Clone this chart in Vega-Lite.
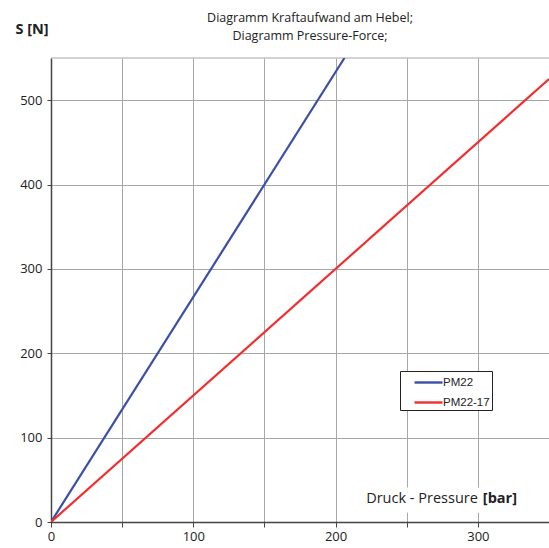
{
  "$schema": "https://vega.github.io/schema/vega-lite/v6.json",
  "width": 498,
  "height": 464,
  "autosize": "none",
  "padding": {"left": 51, "top": 58, "right": 0, "bottom": 26},
  "background": "white",
  "title": {
    "text": ["Diagramm Kraftaufwand am Hebel;", "Diagramm Pressure-Force;"],
    "anchor": "middle",
    "dx": 10,
    "dy": 35,
    "offset": 14,
    "font": "Open Sans",
    "fontSize": 12.5,
    "fontWeight": "normal",
    "color": "#222",
    "lineHeight": 18
  },
  "config": {
    "view": {"stroke": null},
    "font": "Open Sans"
  },
  "datasets": {
    "lines": [
      {"series": "PM22", "p": 0, "s": 0},
      {"series": "PM22", "p": 206.25, "s": 550},
      {"series": "PM22-17", "p": 0, "s": 0},
      {"series": "PM22-17", "p": 350, "s": 525}
    ],
    "xlabel": [
      {"part": "Druck - Pressure", "weight": "normal"},
      {"part": "[bar]", "weight": "bold"}
    ],
    "labelbox": [
      {"name": "axis title background"}
    ]
  },
  "layer": [
    {
      "data": {"name": "labelbox"},
      "mark": {"type": "rule", "color": "#a6a6a6", "strokeWidth": 1},
      "encoding": {"y": {"datum": 550, "type": "quantitative", "scale": {"domain": [0, 550]}}}
    },
    {
      "data": {"name": "labelbox"},
      "mark": {"type": "rect", "color": "white", "opacity": 1},
      "encoding": {
        "x": {"datum": 214, "type": "quantitative"},
        "x2": {"datum": 330},
        "y": {"datum": 11, "type": "quantitative"},
        "y2": {"datum": 41}
      }
    },
    {
      "data": {"name": "lines"},
      "mark": {"type": "line", "strokeWidth": 2.2, "clip": true},
      "encoding": {
        "x": {
          "field": "p", "type": "quantitative",
          "scale": {"domain": [0, 350], "nice": false, "zero": true},
          "axis": {
            "title": null,
            "values": [0, 50, 100, 150, 200, 250, 300, 350],
            "labelExpr": "datum.value % 100 == 0 ? datum.label : ''",
            "grid": true, "gridColor": "#a6a6a6", "gridWidth": 1,
            "domainColor": "#444", "domainWidth": 1.5,
            "tickColor": "#444", "tickSize": 5, "tickWidth": 1,
            "labelFont": "Open Sans", "labelFontSize": 13, "labelColor": "#222",
            "labelPadding": 3, "labelFlush": false
          }
        },
        "y": {
          "field": "s", "type": "quantitative",
          "scale": {"domain": [0, 550], "nice": false},
          "axis": {
            "title": "S [N]",
            "titleAngle": 0, "titleX": -36, "titleY": -25, "titleAlign": "left", "titleBaseline": "alphabetic",
            "titleFont": "Open Sans", "titleFontSize": 14.5, "titleFontWeight": "bold", "titleColor": "#222",
            "values": [0, 100, 200, 300, 400, 500],
            "grid": true, "gridColor": "#a6a6a6", "gridWidth": 1,
            "domainColor": "#444", "domainWidth": 1.5,
            "tickColor": "#444", "tickSize": 4, "tickWidth": 1,
            "labelFont": "Open Sans", "labelFontSize": 13, "labelColor": "#222",
            "labelPadding": 5
          }
        },
        "color": {
          "field": "series", "type": "nominal",
          "scale": {"domain": ["PM22", "PM22-17"], "range": ["#3a4fa5", "#f03030"]},
          "legend": {
            "title": null,
            "orient": "none",
            "legendX": 349,
            "legendY": 313,
            "symbolType": "M-1.75,0H1.75",
            "symbolStrokeWidth": 2.4,
            "symbolSize": 256,
            "symbolOffset": 17,
            "labelFont": "Liberation Sans",
            "labelFontSize": 11.5,
            "labelColor": "#222",
            "strokeColor": "#222",
            "padding": 2,
            "rowPadding": 5,
            "labelOffset": 5,
            "fillColor": "white"
          }
        }
      }
    },
    {
      "data": {"name": "xlabel"},
      "transform": [{"filter": "datum.weight == 'normal'"}],
      "mark": {"type": "text", "align": "right", "baseline": "alphabetic", "font": "Open Sans", "fontSize": 14.5, "color": "#222"},
      "encoding": {
        "x": {"datum": 300},
        "y": {"datum": 22},
        "text": {"field": "part"}
      }
    },
    {
      "data": {"name": "xlabel"},
      "transform": [{"filter": "datum.weight == 'bold'"}],
      "mark": {"type": "text", "align": "right", "baseline": "alphabetic", "font": "Open Sans", "fontSize": 14.5, "fontWeight": "bold", "color": "#222"},
      "encoding": {
        "x": {"datum": 327.5},
        "y": {"datum": 22},
        "text": {"field": "part"}
      }
    }
  ]
}
